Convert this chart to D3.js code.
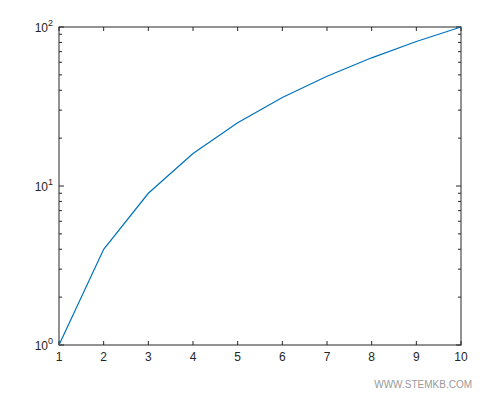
<!DOCTYPE html>
<html><head><meta charset="utf-8">
<script src="https://cdn.jsdelivr.net/npm/d3@7"></script>
<style>body{margin:0;background:#fff}</style>
</head><body><div id="chart"></div>
<script>
const xValues = [1, 2, 3, 4, 5, 6, 7, 8, 9, 10];
const yValues = [1, 4, 9, 16, 25, 36, 49, 64, 81, 100];
const xTicks = [1, 2, 3, 4, 5, 6, 7, 8, 9, 10];
const yTicks = [1, 10, 100];
const yTickExp = ["0", "1", "2"];

const width = 500, height = 400;
const margin = {top: 27, right: 39, bottom: 55, left: 59};

const svg = d3.create('svg').attr('width', width).attr('height', height)
    .style('font-family', 'Helvetica, Arial, sans-serif');

const xScale = d3.scaleLinear().domain([1, 10]).range([margin.left, width - margin.right]);
const yScale = d3.scaleLog().domain([1, 100]).range([height - margin.bottom, margin.top]);

const L = margin.left, R = width - margin.right, T = margin.top, B = height - margin.bottom;
const tickCol = '#262626';

svg.append('rect').attr('x', L).attr('y', T).attr('width', R - L).attr('height', B - T)
    .attr('fill', 'none').attr('stroke', tickCol).attr('stroke-width', 1);

// x ticks (inward, bottom and top)
const gx = svg.append('g');
xTicks.forEach((t, i) => {
    const x = xScale(t);
    gx.append('line').attr('x1', x).attr('x2', x).attr('y1', B).attr('y2', B - 4).attr('stroke', tickCol);
    gx.append('line').attr('x1', x).attr('x2', x).attr('y1', T).attr('y2', T + 4).attr('stroke', tickCol);
    gx.append('text').attr('x', x).attr('y', B + 16).attr('text-anchor', 'middle')
        .attr('font-size', 12).attr('fill', tickCol).text(t);
});

// y major / minor ticks
const gy = svg.append('g');
for (let d = 1; d < 100; d *= 10) {
    for (let m = 2; m <= 9; m++) {
        const y = yScale(d * m);
        gy.append('line').attr('x1', L).attr('x2', L + 3).attr('y1', y).attr('y2', y).attr('stroke', tickCol);
        gy.append('line').attr('x1', R).attr('x2', R - 3).attr('y1', y).attr('y2', y).attr('stroke', tickCol);
    }
}
yTicks.forEach((t, i) => {
    const y = yScale(t);
    gy.append('line').attr('x1', L).attr('x2', L + 5).attr('y1', y).attr('y2', y).attr('stroke', tickCol);
    gy.append('line').attr('x1', R).attr('x2', R - 5).attr('y1', y).attr('y2', y).attr('stroke', tickCol);
    const tx = gy.append('text').attr('x', L - 6).attr('y', y + 5).attr('text-anchor', 'end')
        .attr('font-size', 12).attr('fill', tickCol);
    tx.append('tspan').text('10');
    tx.append('tspan').attr('dy', -6).attr('font-size', 9).text(yTickExp[i]);
});

const line = d3.line().x((d, i) => xScale(xValues[i])).y(d => yScale(d));
svg.append('path').datum(yValues).attr('d', line)
    .attr('fill', 'none').attr('stroke', '#0072BD').attr('stroke-width', 1.2);

svg.append('text').attr('x', 472).attr('y', 388).attr('text-anchor', 'end')
    .attr('font-size', 10).attr('fill', '#999').text('WWW.STEMKB.COM');

document.getElementById('chart').appendChild(svg.node());
</script></body></html>
